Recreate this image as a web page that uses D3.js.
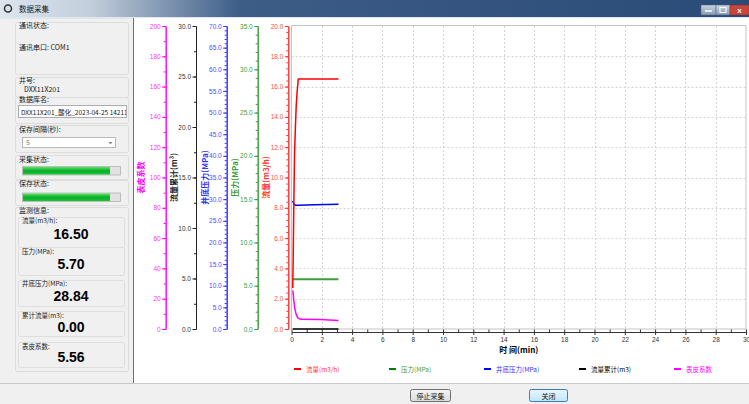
<!DOCTYPE html>
<html>
<head>
<meta charset="utf-8">
<script src="https://cdn.jsdelivr.net/npm/d3@7"></script>
<style>
  body { margin: 0; background: #f0f0f0; overflow: hidden; }
  text { font-family: "Liberation Sans", "Noto Sans CJK SC", sans-serif; }
  .cjk { font-family: "Noto Sans CJK SC", "Liberation Sans", sans-serif; }
</style>
</head>
<body>
<script>
// window size
var width = 749;
var height = 404;

// time axis (min)
var timeMax = 30;
var timeMajor = 2;

// y axes, left to right
var axisTitles = ["表皮系数", "流量累计(m³)", "井底压力(MPa)", "压力(MPa)", "流量(m3/h)"];
var axisMax = [200, 30, 70, 35, 20];
var axisMajor = [20, 5, 5, 5, 2];
var axisMinor = [10, 2.5, 1, 1, 0.4];
var axisFormat = ["d", ".1f", ".1f", ".1f", ".1f"];

// series (time in min)
var flowTime = [0.08, 0.11, 0.15, 0.2, 0.26, 0.31, 0.36, 0.45, 3.1];
var flowValues = [2.7, 4.5, 8.0, 11.5, 13.4, 14.7, 15.5, 16.5, 16.5];
var pressTime = [0.08, 3.1];
var pressValues = [5.75, 5.75];
var bhpTime = [0.08, 0.14, 0.25, 0.5, 1.5, 3.1];
var bhpValues = [29.6, 29.0, 28.6, 28.6, 28.7, 28.8];
var cumTime = [0.08, 3.1];
var cumValues = [0, 0];
var skinTime = [0.09, 0.15, 0.22, 0.31, 0.42, 0.6, 1.9, 3.1];
var skinValues = [25.5, 18.9, 13.5, 9.5, 7.3, 6.4, 6.2, 5.6];

// legend
var legendNames = ["流量(m3/h)", "压力(MPa)", "井底压力(MPa)", "流量累计(m3)", "表皮系数"];

// left panel texts
var panelLabels = ["流量(m3/h):", "压力(MPa):", "井底压力(MPa):", "累计流量(m3):", "表皮系数:"];
var panelValues = ["16.50", "5.70", "28.84", "0.00", "5.56"];

// layout
var plotLeft = 291.5, plotRight = 746, plotTop = 26, plotBottom = 329;
var axisX = [165.7, 196, 226.7, 257.7, 288.3];
var titleX = [141.5, 174.5, 205, 235.5, 266.5];
var axisColors = ["#ff00ff", "#222222", "#3333ff", "#3c9c3c", "#ff3333"];
var labelColors = ["#ff33ff", "#333333", "#4d4dff", "#3c9c3c", "#ff4d4d"];

var svg = d3.select("body").append("svg")
  .attr("width", width)
  .attr("height", height);

var defs = svg.append("defs");

function makeWindow() {
  // title bar
  var tg = defs.append("linearGradient").attr("id", "titleGrad");
  tg.append("stop").attr("offset", "0%").attr("stop-color", "#dde5ee");
  tg.append("stop").attr("offset", "12%").attr("stop-color", "#c3cfdc");
  tg.append("stop").attr("offset", "32%").attr("stop-color", "#3d5d87");
  tg.append("stop").attr("offset", "100%").attr("stop-color", "#2a4b77");
  svg.append("rect").attr("x", 0).attr("y", 0).attr("width", width).attr("height", 17).attr("fill", "url(#titleGrad)");
  svg.append("circle").attr("cx", 8).attr("cy", 8.5).attr("r", 3.5).attr("fill", "none").attr("stroke", "#333").attr("stroke-width", 1.5);
  svg.append("text").attr("class", "cjk").attr("x", 19).attr("y", 11.5).attr("font-size", "7.5px").attr("fill", "#1a1a1a").text("数据采集");

  // window buttons
  var bg = defs.append("linearGradient").attr("id", "btnGrad").attr("x1", 0).attr("x2", 0).attr("y1", 0).attr("y2", 1);
  bg.append("stop").attr("offset", "0%").attr("stop-color", "#c8d4e2");
  bg.append("stop").attr("offset", "100%").attr("stop-color", "#8799b2");
  svg.append("rect").attr("x", 701).attr("y", 5).attr("width", 15).attr("height", 10).attr("fill", "url(#btnGrad)").attr("stroke", "#55657d").attr("stroke-width", 0.5);
  svg.append("rect").attr("x", 716).attr("y", 5).attr("width", 14).attr("height", 10).attr("fill", "url(#btnGrad)").attr("stroke", "#55657d").attr("stroke-width", 0.5);
  svg.append("rect").attr("x", 730).attr("y", 5).attr("width", 19).attr("height", 10).attr("fill", "#c9463d").attr("stroke", "#7a2a25").attr("stroke-width", 0.5);
  svg.append("line").attr("x1", 705).attr("x2", 712).attr("y1", 11).attr("y2", 11).attr("stroke", "#fff").attr("stroke-width", 1.5);
  svg.append("rect").attr("x", 720).attr("y", 7.5).attr("width", 6).attr("height", 5).attr("fill", "none").attr("stroke", "#fff").attr("stroke-width", 1);
  svg.append("text").attr("x", 739.5).attr("y", 13).attr("text-anchor", "middle").attr("font-size", "8px").attr("font-weight", "bold").attr("fill", "#fff").text("x");

  svg.append("rect").attr("x", 0).attr("y", 17).attr("width", width).attr("height", 2).attr("fill", "#dfe6ee");

  // chart area
  svg.append("rect").attr("x", 134).attr("y", 18).attr("width", width - 134).attr("height", 365).attr("fill", "#ffffff");
  svg.append("line").attr("x1", 133.5).attr("x2", 133.5).attr("y1", 18).attr("y2", 383).attr("stroke", "#6e6e6e");

  // bottom bar
  svg.append("line").attr("x1", 0).attr("x2", width).attr("y1", 383.5).attr("y2", 383.5).attr("stroke", "#c8c8c8");
  var b1 = defs.append("linearGradient").attr("id", "pbGrad").attr("x1", 0).attr("x2", 0).attr("y1", 0).attr("y2", 1);
  b1.append("stop").attr("offset", "0%").attr("stop-color", "#f4f4f4");
  b1.append("stop").attr("offset", "100%").attr("stop-color", "#dcdcdc");
  var b2 = defs.append("linearGradient").attr("id", "pbGrad2").attr("x1", 0).attr("x2", 0).attr("y1", 0).attr("y2", 1);
  b2.append("stop").attr("offset", "0%").attr("stop-color", "#eaf6fd");
  b2.append("stop").attr("offset", "100%").attr("stop-color", "#bee6fd");
  svg.append("rect").attr("x", 410.5).attr("y", 389.5).attr("width", 40).attr("height", 12).attr("rx", 2).attr("fill", "url(#pbGrad)").attr("stroke", "#707070");
  svg.append("text").attr("class", "cjk").attr("x", 430.5).attr("y", 398.5).attr("text-anchor", "middle").attr("font-size", "7px").attr("fill", "#111").text("停止采集");
  svg.append("rect").attr("x", 529.5).attr("y", 389.5).attr("width", 38).attr("height", 12).attr("rx", 2).attr("fill", "url(#pbGrad2)").attr("stroke", "#3c7fb1");
  svg.append("text").attr("class", "cjk").attr("x", 548.5).attr("y", 398.5).attr("text-anchor", "middle").attr("font-size", "7px").attr("fill", "#111").text("关闭");
}

function makePanel() {
  var p = svg.append("g");
  var groups = [[22, 52], [77, 20], [97, 26], [125, 27], [155, 24], [180, 25], [207, 164]];
  groups.forEach(function(g) {
    p.append("rect").attr("x", 15.5).attr("y", g[0] + 0.5).attr("width", 113).attr("height", g[1])
      .attr("rx", 2).attr("fill", "none").attr("stroke", "#dcdcdc");
  });

  function label(x, y, t, size, color) {
    return p.append("text").attr("class", "cjk").attr("x", x).attr("y", y)
      .attr("font-size", size || "7px").attr("fill", color || "#1a1a1a").text(t);
  }
  label(19, 28, "通讯状态:");
  label(19, 50, "通讯串口: COM1");
  label(19, 82.5, "井号:");
  label(24, 92, "DXX11X201");
  label(19, 102, "数据库名:");
  p.append("rect").attr("x", 18.5).attr("y", 105.5).attr("width", 108).attr("height", 12).attr("fill", "#fff").attr("stroke", "#abadb3");
  defs.append("clipPath").attr("id", "tbClip").append("rect").attr("x", 19).attr("y", 106).attr("width", 107).attr("height", 11);
  label(21, 114.5, "DXX11X201_酸化_2023-04-25 142115", "6.5px").attr("clip-path", "url(#tbClip)");
  label(19, 132, "保存间隔(秒):");
  p.append("rect").attr("x", 22.5).attr("y", 137.5).attr("width", 93).attr("height", 10).attr("fill", "#fff").attr("stroke", "#b8b8b8");
  label(26, 145, "5", "7px", "#777");
  p.append("path").attr("d", "M108.5,142 L112.5,142 L110.5,144.5 Z").attr("fill", "#888");

  var gg = defs.append("linearGradient").attr("id", "progGrad").attr("x1", 0).attr("x2", 0).attr("y1", 0).attr("y2", 1);
  gg.append("stop").attr("offset", "0%").attr("stop-color", "#5fe26a");
  gg.append("stop").attr("offset", "50%").attr("stop-color", "#06b025");
  gg.append("stop").attr("offset", "100%").attr("stop-color", "#1cc43a");
  label(19, 162, "采集状态:");
  label(19, 186, "保存状态:");
  [166, 192.5].forEach(function(y) {
    p.append("rect").attr("x", 22.5).attr("y", y + 0.5).attr("width", 98).attr("height", 8.5).attr("fill", "#e2e2e2").attr("stroke", "#bcbcbc");
    p.append("rect").attr("x", 23).attr("y", y + 1).attr("width", 87).attr("height", 7.5).attr("fill", "url(#progGrad)");
  });

  label(19, 213, "监测信息:");
  var boxTop = [217, 247, 280, 311, 342];
  var boxH = [30, 28, 26, 25, 25];
  var labelY = [223, 253.5, 286, 318, 348.5];
  var valueY = [238.5, 269, 300.5, 332, 362];
  for (var i = 0; i < panelLabels.length; i++) {
    p.append("rect").attr("x", 18.5).attr("y", boxTop[i] + 0.5).attr("width", 106).attr("height", boxH[i])
      .attr("rx", 2).attr("fill", "none").attr("stroke", "#dedede");
    label(22, labelY[i], panelLabels[i], "6.5px");
    p.append("text").attr("x", 71).attr("y", valueY[i]).attr("text-anchor", "middle")
      .attr("font-size", "14px").attr("font-weight", "bold").attr("fill", "#000").text(panelValues[i]);
  }
}

function makeChart() {
  var xScale = d3.scaleLinear().domain([0, timeMax]).range([plotLeft, plotRight]);
  var yScales = axisMax.map(function(m) {
    return d3.scaleLinear().domain([0, m]).range([plotBottom, plotTop]);
  });

  // grid
  var grid = svg.append("g");
  d3.range(timeMajor, timeMax, timeMajor).forEach(function(t) {
    grid.append("line").attr("x1", Math.round(xScale(t)) + 0.5).attr("x2", Math.round(xScale(t)) + 0.5)
      .attr("y1", plotTop).attr("y2", plotBottom).attr("stroke", "#d4d4d4").attr("stroke-dasharray", "2,2");
  });
  d3.range(axisMajor[4], axisMax[4], axisMajor[4]).forEach(function(v) {
    grid.append("line").attr("x1", plotLeft).attr("x2", plotRight)
      .attr("y1", Math.round(yScales[4](v)) + 0.5).attr("y2", Math.round(yScales[4](v)) + 0.5)
      .attr("stroke", "#d4d4d4").attr("stroke-dasharray", "2,2");
  });
  svg.append("rect").attr("x", plotLeft).attr("y", plotTop - 0.5).attr("width", plotRight - plotLeft).attr("height", plotBottom - plotTop + 0.5)
    .attr("fill", "none").attr("stroke", "#c4c4c4");

  // y axes
  for (var i = 0; i < axisMax.length; i++) {
    var minorAxis = d3.axisLeft(yScales[i])
      .tickValues(d3.range(0, axisMax[i] + 1e-9, axisMinor[i]))
      .tickSize(2).tickSizeOuter(0).tickFormat("");
    var majorAxis = d3.axisLeft(yScales[i])
      .tickValues(d3.range(0, axisMax[i] + 1e-9, axisMajor[i]))
      .tickSize(3.5).tickSizeOuter(0).tickPadding(1.5)
      .tickFormat(d3.format(axisFormat[i]));
    var gMinor = svg.append("g").attr("transform", "translate(" + axisX[i] + ",0)").call(minorAxis);
    var gMajor = svg.append("g").attr("transform", "translate(" + axisX[i] + ",0)").call(majorAxis);
    [gMinor, gMajor].forEach(function(g) {
      g.selectAll("path, line").attr("stroke", axisColors[i]);
    });
    gMajor.selectAll("text").attr("fill", labelColors[i]).attr("font-size", "6.5px");
    svg.append("text").attr("class", "cjk")
      .attr("transform", "translate(" + titleX[i] + "," + ((plotTop + plotBottom) / 2) + ") rotate(-90)")
      .attr("text-anchor", "middle").attr("dy", "0.35em")
      .attr("font-size", "8px").attr("font-weight", "bold").attr("fill", axisColors[i])
      .text(axisTitles[i]);
  }

  // x axis
  var xAxisY = 332;
  svg.append("g").attr("transform", "translate(0," + xAxisY + ")")
    .call(d3.axisBottom(xScale).tickValues(d3.range(0, timeMax + 1, 1)).tickSize(-2.5).tickSizeOuter(0).tickFormat(""))
    .selectAll("path, line").attr("stroke", "#333");
  var gx = svg.append("g").attr("transform", "translate(0," + xAxisY + ")")
    .call(d3.axisBottom(xScale).tickValues(d3.range(0, timeMax + 1, timeMajor)).tickSize(3).tickSizeOuter(0).tickPadding(2));
  gx.selectAll("path, line").attr("stroke", "#333");
  gx.selectAll("text").attr("font-size", "6.5px").attr("fill", "#333");
  svg.append("text").attr("class", "cjk").attr("x", (plotLeft + plotRight) / 2).attr("y", 353)
    .attr("text-anchor", "middle").attr("font-size", "8px").attr("font-weight", "bold").attr("fill", "#000")
    .text("时 间(min)");

  // series
  var series = [
    { t: cumTime, v: cumValues, axis: 1, color: "#000000", w: 1.5 },
    { t: skinTime, v: skinValues, axis: 0, color: "#ff00ff", w: 1.5 },
    { t: pressTime, v: pressValues, axis: 3, color: "#3aa13a", w: 2 },
    { t: bhpTime, v: bhpValues, axis: 2, color: "#0000ff", w: 1.5 },
    { t: flowTime, v: flowValues, axis: 4, color: "#ff0000", w: 1.5 }
  ];
  series.forEach(function(s) {
    var line = d3.line()
      .x(function(d, j) { return xScale(s.t[j]); })
      .y(function(d) { return yScales[s.axis](d); });
    svg.append("path").datum(s.v).attr("d", line)
      .attr("fill", "none").attr("stroke", s.color).attr("stroke-width", s.w);
  });

  // legend
  var legendColors = ["#ff0000", "#008000", "#0000ff", "#000000", "#ff00ff"];
  var legendTextColors = ["#ff3333", "#3c9c3c", "#3333ff", "#000000", "#ff00ff"];
  var lg = svg.append("g").selectAll("g").data(legendNames).enter().append("g")
    .attr("transform", function(d, i) { return "translate(" + (294 + i * 95) + ",369)"; });
  lg.append("line").attr("x1", 0).attr("x2", 7).attr("y1", 0).attr("y2", 0)
    .attr("stroke", function(d, i) { return legendColors[i]; }).attr("stroke-width", 2);
  lg.append("text").attr("class", "cjk").attr("x", 12).attr("y", 2.5).attr("font-size", "6.5px")
    .attr("fill", function(d, i) { return legendTextColors[i]; })
    .text(function(d) { return d; });
}

makeWindow();
makePanel();
makeChart();
</script>
</body>
</html>
